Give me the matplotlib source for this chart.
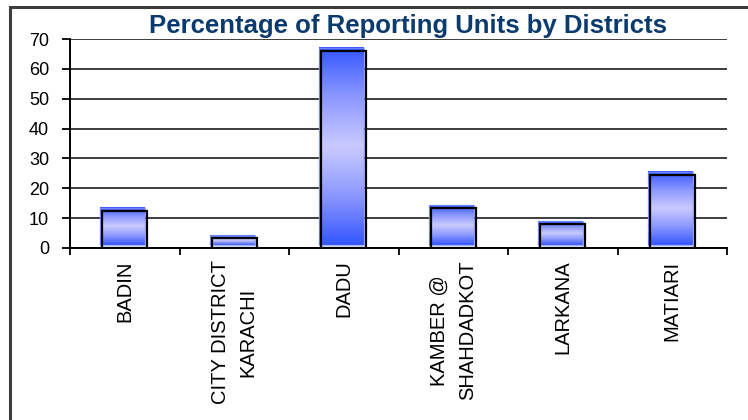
import numpy as np
import matplotlib
matplotlib.use("Agg")
import matplotlib.pyplot as plt
from matplotlib.colors import LinearSegmentedColormap
from matplotlib.patches import Rectangle
import matplotlib.transforms as mtransforms

# ---- data ----
districts = ["BADIN", "CITY DISTRICT\nKARACHI", "DADU",
             "KAMBER @\nSHAHDADKOT", "LARKANA", "MATIARI"]
percentages = [12.5, 3.2, 66.0, 13.3, 7.9, 24.6]
y_ticks = [0, 10, 20, 30, 40, 50, 60, 70]
title = "Percentage of Reporting Units by Districts"

plt.rcParams['font.family'] = ['Liberation Sans', 'DejaVu Sans']

W, H = 748, 420
fig = plt.figure(figsize=(W / 100, H / 100), dpi=100)
fig.patch.set_facecolor('white')

# outer chart frame (right / bottom edges run off the canvas)
fig.add_artist(Rectangle((10 / W, -0.1), 1.2, (H - 7) / H + 0.1,
                         transform=fig.transFigure, fill=False,
                         edgecolor='#3c3c3c', lw=2.2))

ax = fig.add_axes([70 / W, 1 - 248 / H, (727 - 70) / W, (248 - 39) / H])
ax.set_facecolor('white')

x = np.arange(len(districts))
bw = 0.41

# gradient fills, slightly offset up-left like the original
cmap = LinearSegmentedColormap.from_list(
    'barg', ['#3456ff', '#8c98ff', '#cacaff', '#8c98ff', '#3456ff'])
grad = np.linspace(0, 1, 256).reshape(-1, 1)
offset = mtransforms.ScaledTranslation(-2 / 100, 3 / 100, fig.dpi_scale_trans)

bars = ax.bar(x, percentages, width=bw, fill=False, edgecolor='black',
              linewidth=1.6, zorder=4)
for b in bars:
    x0, y0 = b.get_x(), b.get_y()
    ax.imshow(grad, cmap=cmap, origin='lower', aspect='auto',
              extent=[x0, x0 + b.get_width(), y0, y0 + b.get_height()],
              transform=ax.transData + offset, zorder=3,
              interpolation='bilinear')
    ax.add_patch(Rectangle((x0, y0), b.get_width(), b.get_height(),
                           fill=False, edgecolor='#7f95ff', lw=1.0,
                           alpha=0.7, transform=ax.transData + offset,
                           zorder=3.5))

ax.set_xlim(-0.5, len(districts) - 0.5)
ax.set_ylim(0, 70)

# y axis
ax.set_yticks(y_ticks)
ax.set_yticklabels([str(t) for t in y_ticks], fontsize=13)
ax.tick_params(axis='y', direction='out', length=6, width=1.3,
               pad=9, colors='black')
ax.yaxis.grid(True, color='#2e2e2e', lw=1.3)
ax.set_axisbelow(True)

# x axis: labels at centers, ticks at boundaries
ax.set_xticks(x)
ax.set_xticklabels(districts, rotation=90, fontsize=14.5,
                   va='top', ha='center', linespacing=1.6,
                   multialignment='center')
ax.tick_params(axis='x', which='major', length=0, pad=9)
ax.set_xticks(np.arange(-0.5, len(districts), 1.0), minor=True)
ax.tick_params(axis='x', which='minor', direction='out', length=5,
               width=1.3, colors='black')

for s in ['top', 'right']:
    ax.spines[s].set_visible(False)
for s in ['left', 'bottom']:
    ax.spines[s].set_color('black')
    ax.spines[s].set_linewidth(1.4)

fig.text(408 / W, 1 - 26 / H, title, ha='center', va='center',
         fontsize=18.5, fontweight='bold', color='#0b3a6e')

fig.savefig('out.png', dpi=100, facecolor='white')
